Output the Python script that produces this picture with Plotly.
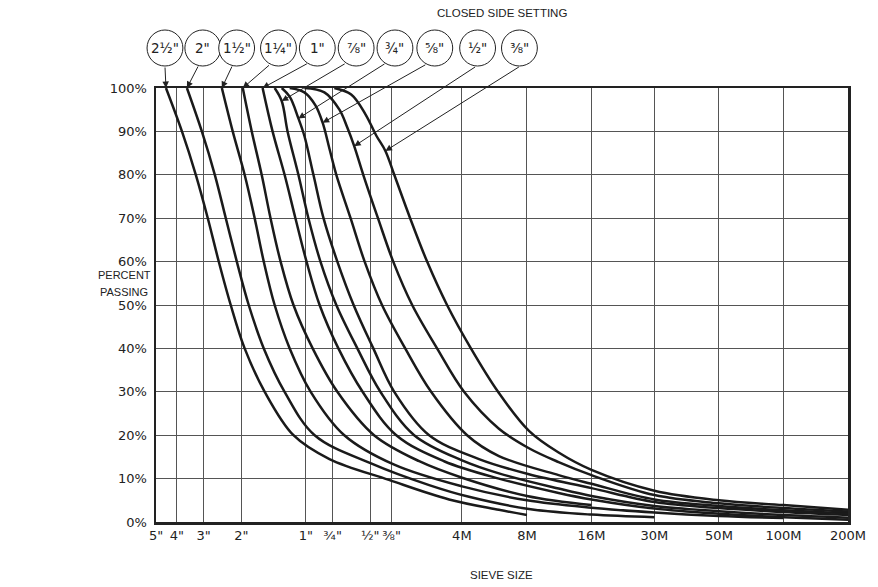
import numpy as np
import plotly.graph_objects as go

# ---------------- data ----------------
sieve_labels = ['5"', '4"', '3"', '2"', '1"', '¾"', '½"', '⅜"', '4M', '8M', '16M', '30M', '50M', '100M', '200M']
sieve_mm = [127, 101.6, 76.2, 50.8, 25.4, 19.05, 12.7, 10.1, 4.75, 2.36, 1.18, 0.6, 0.3, 0.15, 0.075]

pct_ticks = [0, 10, 20, 30, 40, 50, 60, 70, 80, 90, 100]
pct_labels = [f"{v}%" for v in pct_ticks]

css_labels = ['2½"', '2"', '1½"', '1¼"', '1"', '⅞"', '¾"', '⅝"', '½"', '⅜"']

c1_mm  = [114.1, 96.1, 82.8, 72.8, 64.7, 56.9, 49.0, 39.5, 29.0, 19.7, 10.4, 5.45, 3.19, 2.36]
c1_pct = [100, 90, 80, 70, 60, 50, 40, 30, 20, 14.5, 9.7, 5.2, 2.8, 1.6]

c2_mm  = [91.1, 77.6, 67.5, 60.0, 53.3, 46.9, 39.9, 31.9, 23.1, 12.6, 6.75, 4.40, 2.31, 1.18, 0.6]
c2_pct = [100, 90, 80, 70, 60, 50, 40, 30, 20, 13.5, 8.5, 5.8, 3.0, 1.7, 1.1]

c3_mm  = [62.6, 55.7, 49.0, 44.0, 39.9, 35.5, 30.2, 24.1, 16.8, 9.82, 4.74, 2.36, 1.18, 0.6, 0.3, 0.15]
c3_pct = [100, 90, 80, 70, 60, 50, 40, 30, 20, 13.2, 8.2, 5.0, 3.3, 2.2, 1.4, 0.9]

c4_mm  = [50.0, 45.4, 40.8, 37.1, 33.3, 29.0, 23.6, 18.1, 12.2, 7.51, 4.74, 2.36, 1.18]
c4_pct = [100, 90, 80, 70, 60, 50, 40, 30, 20, 14, 10.2, 6.0, 3.9]

c5_mm  = [40.4, 36.3, 31.9, 28.4, 25.2, 21.9, 17.9, 13.8, 9.61, 5.75, 3.19, 1.68, 1.18, 0.6, 0.3, 0.15, 0.075]
c5_pct = [100, 90, 80, 70, 60, 50, 40, 30, 20, 14, 10, 6.7, 5.2, 3.1, 1.9, 1.1, 0.5]

c6_mm  = [35.5, 32.9, 30.9, 27.5, 24.7, 21.7, 18.3, 14.6, 11.4, 7.93, 4.74, 3.19, 1.68, 1.18, 0.6, 0.3, 0.15, 0.075]
c6_pct = [100, 97, 90, 80, 70, 60, 50, 40, 30, 20, 14.2, 11.2, 7.7, 6.0, 3.7, 2.5, 1.6, 1.0]

c7_mm  = [32.9, 30.2, 27.5, 25.8, 23.4, 21.0, 18.1, 15.2, 12.3, 9.82, 6.75, 3.95, 2.31, 1.18, 0.6, 0.3, 0.15, 0.075]
c7_pct = [100, 98, 93, 89, 80, 70, 60, 50, 40, 30, 20, 14.5, 11.0, 7.8, 4.6, 3.2, 2.3, 1.6]

c8_mm  = [30.2, 25.8, 22.9, 21.2, 19.7, 18.3, 15.7, 13.5, 11.2, 8.73, 6.61, 4.49, 3.19, 1.68, 1.18, 0.6, 0.3, 0.15, 0.075]
c8_pct = [100, 99, 96, 92, 86, 80, 70, 60, 50, 40, 30, 20, 15.2, 10.8, 8.8, 5.2, 3.7, 2.7, 2.0]

c9_mm  = [25.8, 20.8, 17.7, 16.3, 15.1, 13.7, 11.7, 9.93, 8.10, 6.20, 4.64, 3.19, 2.31, 1.68, 1.18, 0.6, 0.3, 0.15, 0.075]
c9_pct = [100, 99, 95, 91, 86.6, 80, 70, 60, 50, 40, 30, 21.5, 17, 13.8, 10.8, 6.2, 4.3, 3.2, 2.4]

c10_mm  = [18.7, 15.6, 13.4, 11.9, 10.8, 9.82, 8.28, 6.90, 5.57, 4.31, 3.22, 2.31, 1.68, 1.18, 0.6, 0.3, 0.15, 0.075]
c10_pct = [100, 98.5, 94, 89, 85.5, 80, 70, 60, 50, 40, 30, 21, 16, 12, 7.2, 5.0, 3.9, 2.8]

curves = [(c1_mm, c1_pct), (c2_mm, c2_pct), (c3_mm, c3_pct), (c4_mm, c4_pct), (c5_mm, c5_pct),
          (c6_mm, c6_pct), (c7_mm, c7_pct), (c8_mm, c8_pct), (c9_mm, c9_pct), (c10_mm, c10_pct)]
# which point of each curve its callout arrow points to
arrow_idx = [0, 0, 0, 0, 0, 1, 2, 3, 4, 4]

# ---------------- layout geometry (pixels) ----------------
W, H = 878, 587
L, R, T, B = 156, 27, 88, 65
PW, PH = W - L - R, H - T - B
XR = [np.log10(127), np.log10(0.075)]

def px_to_xlog(px):
    return XR[0] + (px - L) / PW * (XR[1] - XR[0])

def py_to_y(py):
    return (H - B - py) / PH * 100

def fx(px):
    return (px - L) / PW

def fy(py):
    return (H - B - py) / PH

circle_cx = [165, 203, 237, 279, 318, 357, 396, 436, 479, 521]
circle_cy = 48
circle_r = 18
tail_px = [(165, 66), (199, 65), (233, 65), (271, 64), (309, 63), (347, 63), (387, 63), (428, 64), (478, 66), (522, 66)]

FONT = "Liberation Sans, Arial, Helvetica, sans-serif"
TICKFONT = "DejaVu Sans, Verdana, sans-serif"

fig = go.Figure()
for mm, pct in curves:
    fig.add_trace(go.Scatter(x=mm, y=pct, mode='lines',
                             line=dict(color='#1a1a1a', width=2.5, shape='spline', smoothing=1.0),
                             hoverinfo='skip'))

annotations = []
shapes = []
for i, lab in enumerate(css_labels):
    cx = circle_cx[i]
    shapes.append(dict(type='circle', xref='paper', yref='paper',
                       x0=fx(cx - circle_r), x1=fx(cx + circle_r),
                       y0=fy(circle_cy + circle_r), y1=fy(circle_cy - circle_r),
                       line=dict(color='#222', width=1), fillcolor='white', layer='above'))
    annotations.append(dict(xref='paper', yref='paper', x=fx(cx), y=fy(circle_cy),
                            text=lab, showarrow=False, font=dict(size=13.5, color='#222', family=TICKFONT),
                            xanchor='center', yanchor='middle'))
    mm, pct = curves[i]
    k = arrow_idx[i]
    tx, ty = tail_px[i]
    annotations.append(dict(xref='x', yref='y', x=np.log10(mm[k]), y=pct[k],
                            axref='x', ayref='y', ax=px_to_xlog(tx), ay=py_to_y(ty),
                            text='', showarrow=True, arrowhead=2, arrowsize=1.3, arrowwidth=1,
                            arrowcolor='#222', standoff=0, startstandoff=0))

annotations += [
    dict(xref='paper', yref='paper', x=fx(503), y=fy(13), text='CLOSED SIDE SETTING', showarrow=False,
         font=dict(size=11.5, color='#222', family=FONT), xanchor='center', yanchor='middle'),
    dict(xref='paper', yref='paper', x=fx(503), y=fy(575), text='SIEVE SIZE', showarrow=False,
         font=dict(size=11.5, color='#222', family=FONT), xanchor='center', yanchor='middle'),
    dict(xref='paper', yref='paper', x=fx(124), y=fy(275), text='PERCENT', showarrow=False,
         font=dict(size=11, color='#222', family=FONT), xanchor='center', yanchor='middle'),
    dict(xref='paper', yref='paper', x=fx(124), y=fy(292), text='PASSING', showarrow=False,
         font=dict(size=11, color='#222', family=FONT), xanchor='center', yanchor='middle'),
]

fig.update_layout(
    width=W, height=H, margin=dict(l=L, r=R, t=T, b=B),
    plot_bgcolor='white', paper_bgcolor='white', showlegend=False,
    font=dict(family=FONT, size=13, color='#222'),
    xaxis=dict(type='log', range=XR, tickmode='array', tickvals=sieve_mm, ticktext=sieve_labels,
               showgrid=True, gridcolor='#555', gridwidth=1, showline=True, linecolor='#222',
               linewidth=2.5, mirror=True, ticks='', zeroline=False,
               tickfont=dict(size=13, family=TICKFONT)),
    yaxis=dict(range=[0, 100], tickmode='array', tickvals=pct_ticks, ticktext=pct_labels,
               showgrid=True, gridcolor='#555', gridwidth=1, showline=True, linecolor='#222',
               linewidth=2.5, mirror=True, ticks='', zeroline=False,
               tickfont=dict(size=13, family=TICKFONT), ticklabelstandoff=4),
    annotations=annotations, shapes=shapes,
)

fig.write_html("out.html", config={"displayModeBar": False, "staticPlot": True},
               post_script="document.body.style.margin='0';")
